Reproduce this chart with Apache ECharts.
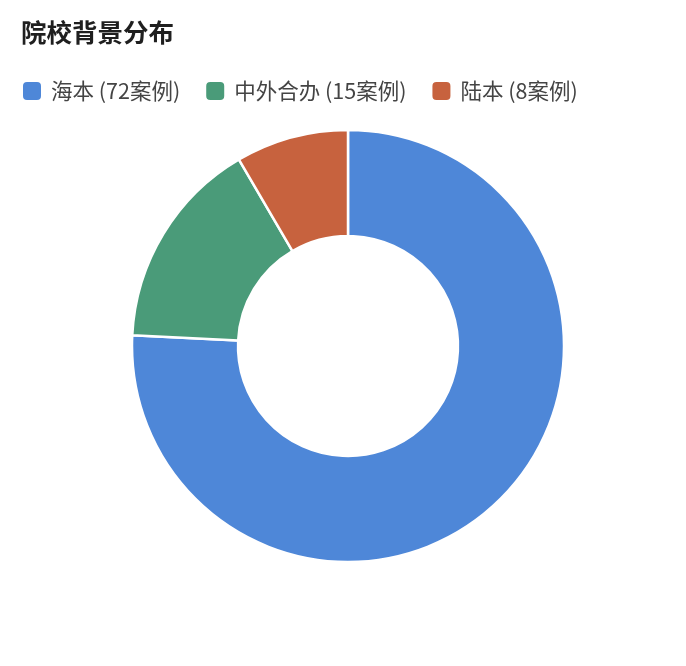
<!DOCTYPE html>
<html><head><meta charset="utf-8">
<script src="https://cdn.jsdelivr.net/npm/echarts@6/dist/echarts.min.js"></script>
<style>html,body{margin:0;padding:0;background:#fff}#c{width:686px;height:666px}</style>
</head><body><div id="c"></div>
<script>
const categories = ['海本 (72案例)', '中外合办 (15案例)', '陆本 (8案例)'];
const values = [72, 15, 8];
const colors = ['#4e87d8', '#4a9b79', '#c7623e'];
const chart = echarts.init(document.getElementById('c'));
chart.setOption({
  animation: false,
  title: { text: '院校背景分布', left: 21, top: 20, padding: 0,
    textStyle: { fontFamily: 'Noto Sans CJK SC', fontSize: 25.5, fontWeight: 'bold', color: '#1f1f1f' } },
  legend: { left: 21, top: 80, padding: 0, itemWidth: 20, itemHeight: 20, itemGap: 24,
    icon: 'roundRect',
    textStyle: { fontFamily: 'Noto Sans CJK SC', fontSize: 21.5, color: '#444', padding: [0, 0, 0, 4] },
    data: categories },
  series: [{
    type: 'pie', center: [348, 346], radius: [110, 216], startAngle: 90,
    label: { show: false }, labelLine: { show: false },
    itemStyle: { borderColor: '#fff', borderWidth: 2.5 },
    data: categories.map((n, i) => ({ name: n, value: values[i], itemStyle: { color: colors[i] } }))
  }]
});
</script></body></html>
